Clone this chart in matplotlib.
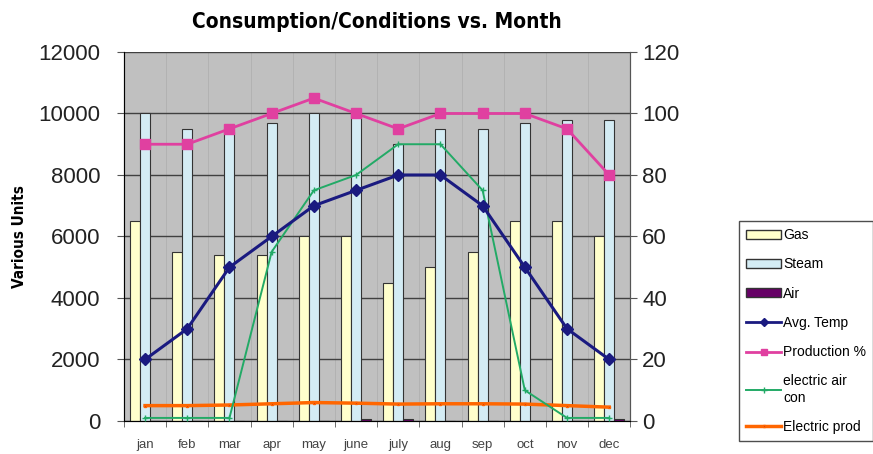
import matplotlib.pyplot as plt
import numpy as np
from matplotlib.lines import Line2D
from matplotlib.patches import Patch

months = ["jan", "feb", "mar", "apr", "may", "june", "july", "aug", "sep", "oct", "nov", "dec"]

# left axis (Various Units)
gas = [6500, 5500, 5400, 5400, 6000, 6000, 4500, 5000, 5500, 6500, 6500, 6000]
steam = [10000, 9500, 9400, 9700, 10000, 10000, 9000, 9500, 9500, 9700, 9800, 9800]
air = [0, 0, 0, 0, 0, 80, 50, 0, 0, 0, 0, 60]

# right axis
avg_temp = [20, 30, 50, 60, 70, 75, 80, 80, 70, 50, 30, 20]
production = [90, 90, 95, 100, 105, 100, 95, 100, 100, 100, 95, 80]
elec_air_con = [1, 1, 1, 55, 75, 80, 90, 90, 75, 10, 1, 1]
elec_prod = [5, 5, 5.2, 5.6, 6, 5.8, 5.5, 5.6, 5.6, 5.5, 5, 4.5]

plt.rcParams["font.family"] = ["Liberation Sans", "DejaVu Sans"]

fig = plt.figure(figsize=(8.73, 4.54), dpi=100)
ax = fig.add_axes([0.142, 0.0727, 0.58, 0.8128])
ax.set_facecolor("#c0c0c0")

x = np.arange(len(months))
w = 0.237
ax.bar(x - w, gas, w, color="#ffffcc", edgecolor="#333333", linewidth=0.8, zorder=2)
ax.bar(x, steam, w, color="#d4ecf4", edgecolor="#333333", linewidth=0.8, zorder=2)
ax.bar(x + w, air, w, color="#660066", edgecolor="#333333", linewidth=0.8, zorder=2)

ax.set_xlim(-0.5, 11.5)
ax.set_ylim(0, 12000)
ax.set_yticks(range(0, 12001, 2000))
ax.set_xticks(x)
ax.set_xticklabels(months, fontsize=9.5, color="#444444")
ax.set_xticks(np.arange(-0.5, 12, 1), minor=True)
ax.tick_params(axis="x", which="major", length=0, pad=13)
ax.tick_params(axis="x", which="minor", length=4, color="#555555")
ax.tick_params(axis="y", labelsize=16, length=5, pad=12, color="#555555", labelcolor="#222222")
ax.grid(axis="y", color="#404040", linewidth=1.0, zorder=1)
ax.grid(axis="x", which="minor", color="#b0b0b0", linewidth=0.6, zorder=1)
ax.set_axisbelow(True)
for s in ax.spines.values():
    s.set_color("#555555")
ax.spines["top"].set_visible(False)

ax.set_ylabel("Various Units", fontsize=11, family="DejaVu Sans", fontstretch="condensed",
              fontweight="bold", labelpad=8)
ax.set_title("Consumption/Conditions vs. Month", fontsize=15, family="DejaVu Sans",
             fontstretch="condensed", fontweight="bold", pad=17)

ax2 = ax.twinx()
ax2.set_ylim(0, 120)
ax2.set_yticks(range(0, 121, 20))
ax2.tick_params(axis="y", labelsize=16, length=5, color="#555555", labelcolor="#222222")
ax2.spines["top"].set_visible(False)
ax2.spines["right"].set_color("#555555")

ax2.plot(x, elec_prod, color="#ff6600", linewidth=2.5, marker="s", markersize=2,
         markerfacecolor="#990033", zorder=3)
ax2.plot(x, elec_air_con, color="#22aa66", linewidth=1.4, marker="+", markersize=4, zorder=4)
ax2.plot(x, avg_temp, color="#1a1a80", linewidth=2.2, marker="D", markersize=6, zorder=5)
ax2.plot(x, production, color="#e040a0", linewidth=2.0, marker="s", markersize=7, zorder=5)

handles = [
    Patch(facecolor="#ffffcc", edgecolor="#333333"),
    Patch(facecolor="#d4ecf4", edgecolor="#333333"),
    Patch(facecolor="#660066", edgecolor="#333333"),
    Line2D([], [], color="#1a1a80", linewidth=2, marker="D", markersize=4),
    Line2D([], [], color="#e040a0", linewidth=2, marker="s", markersize=4),
    Line2D([], [], color="#22aa66", linewidth=1.4, marker="+", markersize=4),
    Line2D([], [], color="#ff6600", linewidth=2.5, marker="s", markersize=2,
           markerfacecolor="#990033"),
]
labels = ["Gas", "Steam", "Air", "Avg. Temp", "Production %", "electric air\ncon", "Electric prod"]
fig.legend(handles, labels, loc="upper left", bbox_to_anchor=(0.847, 0.513),
           fontsize=10, frameon=True, fancybox=False, edgecolor="#222222",
           handlelength=2.5, handleheight=0.6, handletextpad=0.15, labelspacing=1.1,
           borderpad=0.5, borderaxespad=0)

fig.savefig("out.png", dpi=100)
